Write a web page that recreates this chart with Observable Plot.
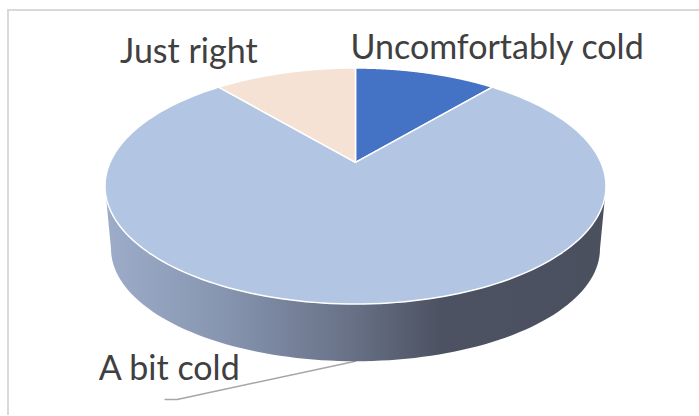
<!DOCTYPE html>
<html>
<head>
<meta charset="utf-8">
<script src="https://cdn.jsdelivr.net/npm/d3@7"></script>
<script src="https://cdn.jsdelivr.net/npm/@observablehq/plot@0.6"></script>
<style>
  html, body { margin: 0; padding: 0; background: #fff; overflow: hidden; }
  #frame { position: absolute; left: 7px; top: 9px; right: 0; bottom: 1px;
           border-left: 2px solid #d9d9d9; border-top: 2px solid #d9d9d9; }
  #chart { position: absolute; left: 0; top: 0; }
  #chart svg { display: block; }
</style>
</head>
<body>
<div id="frame"></div>
<div id="chart"></div>
<script>
// Survey answers: how people felt about the temperature.
const categories = ["Uncomfortably cold", "A bit cold", "Just right"];
const responses = [1, 7, 1];
const sliceColors = ["#4472c4", "#b2c5e2", "#f6e1d5"];

// Where each category label sits, in pie units, with its baseline at y.
const labelX = [-0.02, -1.025, -0.94];
const labelY = [1.077, -1.647, 1.043];

// Leader line from the side wall to the "A bit cold" label.
const leaderX = [0, -0.712, -0.76];
const leaderY = [-1.485, -1.809, -1.809];

// The disc is tilted away from the viewer, so its centre is drawn above the
// middle of the ellipse; tilt is that offset in pie units.
const tilt = 0.2;
const project = (deg) => {
  const t = (deg * Math.PI) / 180;
  const u = Math.sin(t), v = Math.cos(t), w = 1 + tilt * v;
  return { x: (u * Math.sqrt(1 - tilt * tilt)) / w, y: (v + tilt) / w };
};

// One closed outline per slice, starting at twelve o'clock and going clockwise.
const total = d3.sum(responses);
let start = 0;
const sliceOutlines = categories.flatMap((label, i) => {
  const sweep = (responses[i] / total) * 360;
  const from = start;
  start += sweep;
  const rim = d3.range(0, 181).map((k) => ({ label, ...project(from + (sweep * k) / 180) }));
  return [{ label, x: 0, y: tilt }, ...rim];
});

// Side wall: front half of the top rim, back along the smaller lower rim.
const lower = { rx: 0.976, ry: 0.953, cy: -0.532 };
const rad = (d) => (d * Math.PI) / 180;
const wall = [
  ...d3.range(180, 361, 2).map((d) => ({ x: Math.cos(rad(d)), y: Math.sin(rad(d)) })),
  ...d3.range(360, 179, -2).map((d) => ({
    x: lower.rx * Math.cos(rad(d)),
    y: lower.cy + lower.ry * Math.min(Math.sin(rad(d)), 0)
  }))
];

const wallShade = () => {
  const defs = d3.create("svg:defs");
  const g = defs.append("linearGradient").attr("id", "wall-shade");
  [[0, "#9dadc9"], [0.25, "#8593ae"], [0.49, "#687186"], [0.67, "#4c5262"], [1, "#4a505e"]]
    .forEach(([o, c]) => g.append("stop").attr("offset", o).attr("stop-color", c));
  return defs.node();
};

const labels = categories.map((text, i) => ({ text, x: labelX[i], y: labelY[i] }));

const chart = Plot.plot({
  width: 699,
  height: 416,
  margin: 0,
  style: { background: "transparent" },
  x: { domain: [-1, 1], range: [104.5, 605.5], axis: null },
  y: { domain: [-1, 1], range: [303.5, 67.5], axis: null },
  color: { domain: categories, range: sliceColors },
  marks: [
    wallShade,
    Plot.line(leaderX.map((x, i) => ({ x, y: leaderY[i] })), {
      x: "x", y: "y", stroke: "#a6a6a6", strokeWidth: 1.5
    }),
    Plot.line(wall, { x: "x", y: "y", fill: "url(#wall-shade)", stroke: "none", curve: "linear-closed" }),
    Plot.line(sliceOutlines, {
      x: "x", y: "y", z: "label", fill: "label",
      stroke: "white", strokeWidth: 1.5, curve: "linear-closed"
    }),
    Plot.text(labels, {
      x: "x", y: "y", text: "text", textAnchor: "start", lineAnchor: "bottom",
      fontFamily: "Lato", fontSize: 34, fill: "#404040"
    })
  ]
});
document.getElementById("chart").append(chart);
</script>
</body>
</html>
